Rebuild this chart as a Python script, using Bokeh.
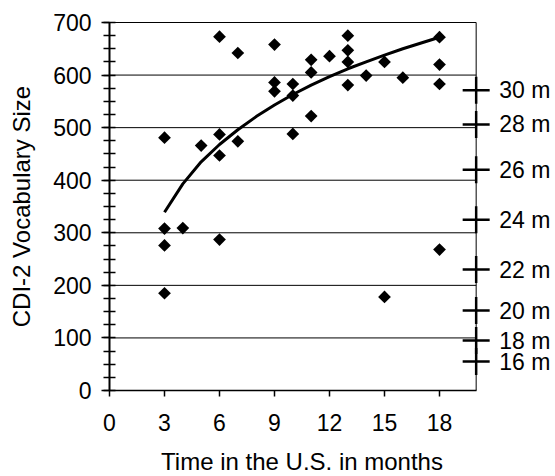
import numpy as np
from bokeh.plotting import figure
from bokeh.models import Range1d, FixedTicker
from bokeh.embed import file_html
from bokeh.resources import INLINE
from bokeh.core.properties import value

# ---- data ----
months = [3, 3, 3, 3, 4, 5, 6, 6, 6, 6, 7, 7, 9, 9, 9, 10, 10, 10, 11, 11, 11,
          12, 13, 13, 13, 13, 14, 15, 15, 16, 18, 18, 18, 18]
vocab = [481, 308, 276, 185, 309, 466, 673, 487, 447, 287, 642, 474, 658, 586, 569,
         583, 561, 488, 629, 605, 522, 636, 675, 647, 625, 581, 599, 625, 178, 595,
         672, 620, 583, 268]

# logarithmic trend line at whole months
trend_months = [3, 4, 5, 6, 7, 8, 9, 10, 11, 12, 13, 14, 15, 16, 17, 18]
trend_vocab = [339, 393, 435, 468, 496, 521, 543, 563, 581, 597, 612, 625, 638, 650, 661, 672]

# norm marks on the right-hand side
norm_labels = ["30 m", "28 m", "26 m", "24 m", "22 m", "20 m", "18 m", "16 m"]
norm_values = [571, 506, 420, 325, 230, 152, 95, 55]

x_ticks = [0, 3, 6, 9, 12, 15, 18]
y_ticks = [0, 100, 200, 300, 400, 500, 600, 700]
y_minor_ticks = list(range(0, 701, 25))
X_MAX = 20
Y_MAX = 700

x_title = "Time in the U.S. in months"
y_title = "CDI-2 Vocabulary Size"

FONT = "Liberation Sans"
FS = "23px"
TFS = "24px"

# canvas geometry: the frame covers the whole canvas, axes sit at fixed data positions
W, H = 547, 468
X0_PX, Y0_PX = 101, 382          # canvas position of the (0, 0) data point
PX_PER_MONTH = 55 / 3
PX_PER_UNIT = 368 / 700

x_range = Range1d(-X0_PX / PX_PER_MONTH, (W - X0_PX) / PX_PER_MONTH)
y_range = Range1d(-(H - Y0_PX) / PX_PER_UNIT, Y0_PX / PX_PER_UNIT)

p = figure(width=W, height=H, x_range=x_range, y_range=y_range,
           output_backend="svg", toolbar_location=None,
           min_border=0, min_border_left=0, min_border_right=0,
           min_border_top=0, min_border_bottom=0)
p.styles = {"position": "absolute", "top": "8px", "left": "8px"}
p.outline_line_color = None
p.xgrid.visible = False
p.ygrid.visible = False
p.background_fill_color = "white"
p.border_fill_color = "white"

# grid lines and frame (only over the 0..20 month region)
grid_vals = y_ticks[1:]
p.segment(x0=[0] * len(grid_vals), x1=[X_MAX] * len(grid_vals), y0=grid_vals, y1=grid_vals,
          line_color="black", line_width=1)
p.segment(x0=[X_MAX], x1=[X_MAX], y0=[0], y1=[Y_MAX], line_color="black", line_width=1)

# x axis (fixed at y = 0)
xa = p.xaxis[0]
xa.fixed_location = 0
xa.ticker = FixedTicker(ticks=x_ticks)
xa.bounds = (0, X_MAX)
xa.axis_line_width = 1.5
xa.axis_line_color = "black"
xa.major_tick_out = 6
xa.major_tick_in = 0
xa.major_tick_line_width = 1.5
xa.minor_tick_out = 0
xa.minor_tick_in = 0
xa.major_label_text_font = FONT
xa.major_label_text_font_size = FS
xa.major_label_text_color = "black"
xa.major_label_standoff = 17

# y axis (fixed at x = 0)
ya = p.yaxis[0]
ya.fixed_location = 0
ya.ticker = FixedTicker(ticks=y_ticks, minor_ticks=y_minor_ticks)
ya.bounds = (0, Y_MAX)
ya.axis_line_width = 2
ya.axis_line_color = "black"
ya.major_tick_out = 8
ya.major_tick_in = 0
ya.major_tick_line_width = 1.5
ya.minor_tick_out = 6
ya.minor_tick_in = 6
ya.minor_tick_line_width = 1.5
ya.minor_tick_line_color = "black"
ya.major_label_text_font = FONT
ya.major_label_text_font_size = FS
ya.major_label_text_color = "black"
ya.major_label_standoff = 10

# axis titles
p.text(x=[10.5], y=[-(461 - 8 - Y0_PX) / PX_PER_UNIT], text=[x_title],
       text_align="center", text_baseline="alphabetic",
       text_font=value(FONT), text_font_size=value(TFS), text_color="black")
p.text(x=[-(X0_PX - 13) / PX_PER_MONTH], y=[Y_MAX / 2], text=[y_title], angle=np.pi / 2,
       text_align="center", text_baseline="middle",
       text_font=value(FONT), text_font_size=value(TFS), text_color="black")

# trend line
p.line(trend_months, trend_vocab, line_color="black", line_width=3)

# data points (diamonds)
p.scatter(months, vocab, marker="square", size=9, angle=np.pi / 4,
          fill_color="black", line_color=None)

# norm marks and labels
p.scatter([X_MAX] * len(norm_values), norm_values, marker="cross", size=27,
          line_color="black", line_width=2.5)
p.text([X_MAX] * len(norm_values), norm_values, text=norm_labels, x_offset=23,
       text_baseline="middle", text_align="left",
       text_font=value(FONT), text_font_size=value(FS), text_color="black")

open("out.html", "w").write(file_html(p, INLINE))
